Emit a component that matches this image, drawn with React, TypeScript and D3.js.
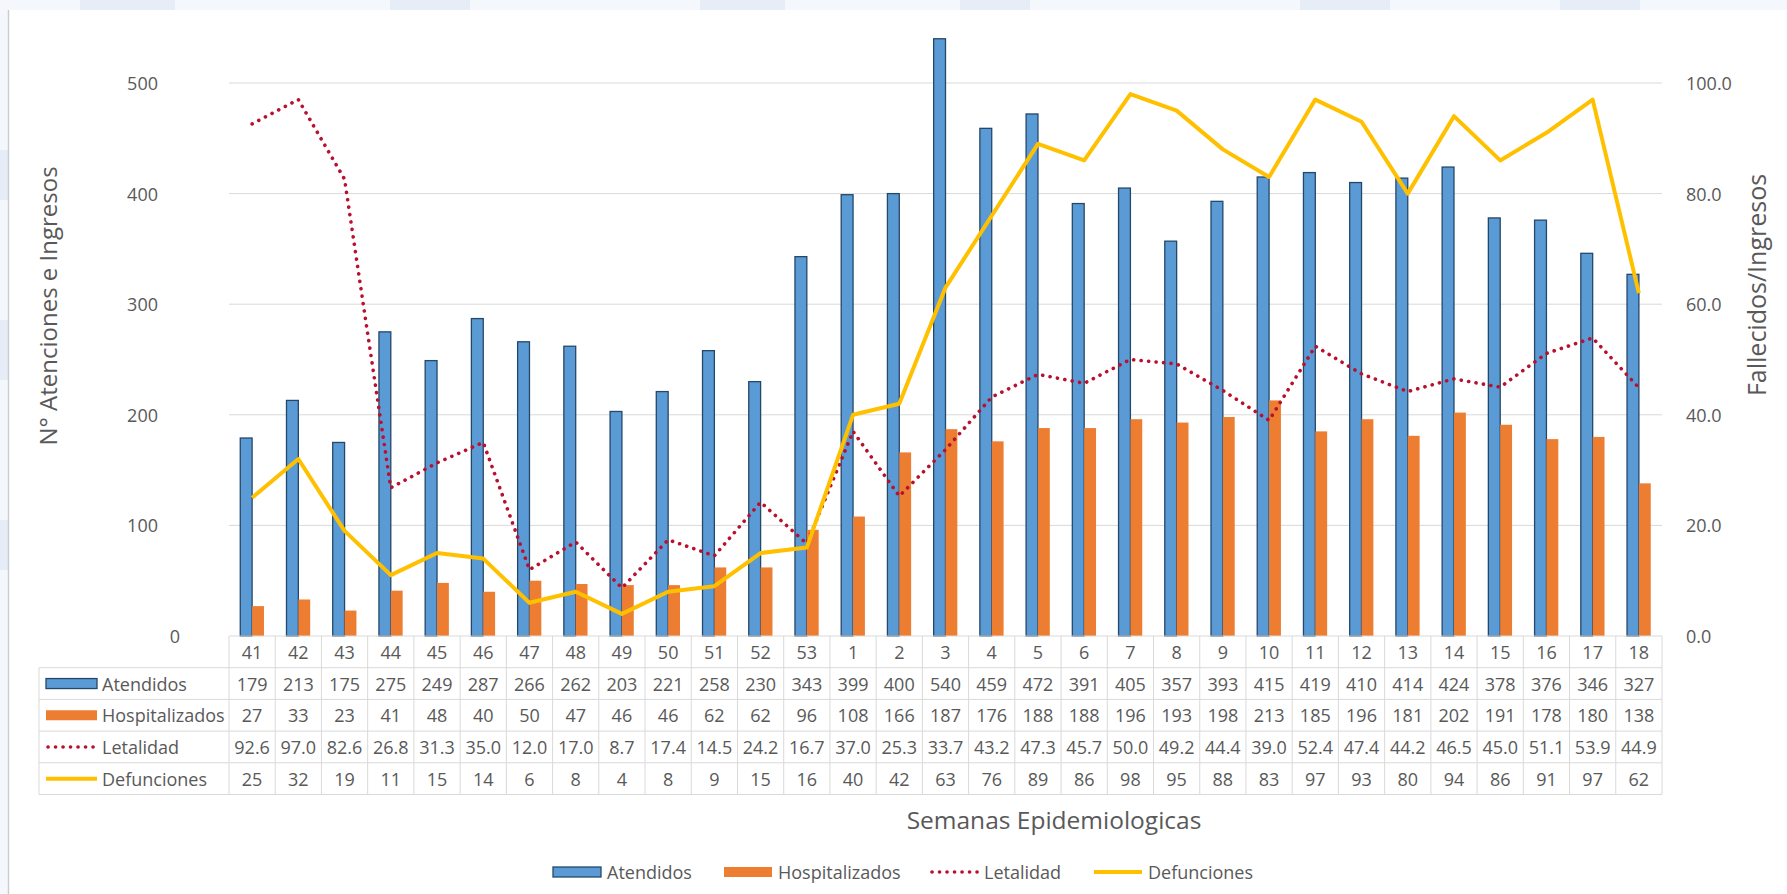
import React from "react";
import * as d3 from "d3";

const weeks = ["41","42","43","44","45","46","47","48","49","50","51","52","53","1","2","3","4","5","6","7","8","9","10","11","12","13","14","15","16","17","18"];
const atendidos = [179,213,175,275,249,287,266,262,203,221,258,230,343,399,400,540,459,472,391,405,357,393,415,419,410,414,424,378,376,346,327];
const hospitalizados = [27,33,23,41,48,40,50,47,46,46,62,62,96,108,166,187,176,188,188,196,193,198,213,185,196,181,202,191,178,180,138];
const letalidad = [92.6,97.0,82.6,26.8,31.3,35.0,12.0,17.0,8.7,17.4,14.5,24.2,16.7,37.0,25.3,33.7,43.2,47.3,45.7,50.0,49.2,44.4,39.0,52.4,47.4,44.2,46.5,45.0,51.1,53.9,44.9];
const defunciones = [25,32,19,11,15,14,6,8,4,8,9,15,16,40,42,63,76,89,86,98,95,88,83,97,93,80,94,86,91,97,62];
const leftTicks = [0,100,200,300,400,500];
const rightTicks = [0,20,40,60,80,100];
const seriesNames = ["Atendidos","Hospitalizados","Letalidad","Defunciones"];

const W = 1787, H = 894;
const BLUE = "#5B9BD5", BLUE_STROKE = "#25476A", ORANGE = "#ED7D31", RED = "#B8102E", YELLOW = "#FFC000";
const TXT = "#595959", GRID = "#D9D9D9";
const FONT = "'Open Sans', 'Noto Sans', sans-serif";

export default function App() {
  const x = d3.scaleBand<string>().domain(weeks).range([229, 1662]).paddingInner(0).paddingOuter(0);
  const bw = x.bandwidth();
  const xs = d3.scaleBand<string>().domain(["a", "h"]).range([0, bw]).paddingInner(0).paddingOuter(0.95);
  const yL = d3.scaleLinear().domain([0, 500]).range([636, 83]);
  const yR = d3.scaleLinear().domain([0, 100]).range([636, 83]);
  const cx = (w: string) => (x(w) as number) + bw / 2;

  const lineR = d3.line<number>().x((_, i) => cx(weeks[i])).y((d) => yR(d));

  const tableTop = 636;
  const rowH = 31.7;
  const tableLeft = 39;
  const plotLeft = 229, plotRight = 1662;
  const rows = [
    { name: seriesNames[0], vals: atendidos.map(String), key: "bar" },
    { name: seriesNames[1], vals: hospitalizados.map(String), key: "bar2" },
    { name: seriesNames[2], vals: letalidad.map((v) => v.toFixed(1)), key: "dot" },
    { name: seriesNames[3], vals: defunciones.map(String), key: "line" },
  ];

  const keyGlyph = (kind: string, x0: number, yc: number, w: number) => {
    if (kind === "bar") return <rect x={x0} y={yc - 5} width={w} height={10} fill={BLUE} stroke={BLUE_STROKE} strokeWidth={1.3} />;
    if (kind === "bar2") return <rect x={x0} y={yc - 5} width={w} height={10} fill={ORANGE} />;
    if (kind === "dot") return <line x1={x0 + 2} x2={x0 + w} y1={yc} y2={yc} stroke={RED} strokeWidth={3.6} strokeDasharray="0.1 7.4" strokeLinecap="round" />;
    return <line x1={x0} x2={x0 + w} y1={yc} y2={yc} stroke={YELLOW} strokeWidth={4} />;
  };

  const bgPatches = [
    [80, 0, 95, 10], [390, 0, 80, 10], [700, 0, 85, 10], [960, 0, 70, 10], [1300, 0, 90, 10], [1560, 0, 80, 10],
    [0, 150, 8, 50], [0, 320, 8, 60], [0, 520, 8, 50],
  ];

  return (
    <svg width={W} height={H} style={{ position: "absolute", left: 0, top: 0 }} fontFamily={FONT}>
      <rect x={0} y={0} width={W} height={H} fill="#F4F8FC" />
      {bgPatches.map((p, i) => (
        <rect key={i} x={p[0]} y={p[1]} width={p[2]} height={p[3]} fill="#E6EDF7" />
      ))}
      <rect x={9} y={10} width={W - 9} height={H - 10} fill="#FFFFFF" />
      <line x1={8.5} x2={8.5} y1={10} y2={H} stroke="#C9CDD2" strokeWidth={1.5} />

      {/* gridlines */}
      {leftTicks.filter((t) => t > 0).map((t) => (
        <line key={t} x1={plotLeft} x2={plotRight} y1={yL(t)} y2={yL(t)} stroke={GRID} strokeWidth={1} />
      ))}

      {/* left tick labels */}
      {leftTicks.map((t) => (
        <text key={t} x={t === 0 ? 180 : 158} y={yL(t)} textAnchor="end" dominantBaseline="central" fontSize={18} fill={TXT}>{t}</text>
      ))}
      {/* right tick labels */}
      {rightTicks.map((t) => (
        <text key={t} x={1686} y={yR(t)} textAnchor="start" dominantBaseline="central" fontSize={18} fill={TXT}>{t.toFixed(1)}</text>
      ))}

      {/* bars */}
      {weeks.map((w, i) => (
        <g key={w}>
          <rect x={(x(w) as number) + (xs("a") as number)} y={yL(atendidos[i])} width={xs.bandwidth()} height={yL(0) - yL(atendidos[i])} fill={BLUE} stroke={BLUE_STROKE} strokeWidth={1.3} />
          <rect x={(x(w) as number) + (xs("h") as number)} y={yL(hospitalizados[i])} width={xs.bandwidth()} height={yL(0) - yL(hospitalizados[i])} fill={ORANGE} />
        </g>
      ))}

      {/* lines */}
      <path d={lineR(letalidad) || ""} fill="none" stroke={RED} strokeWidth={3.6} strokeDasharray="0.1 7.4" strokeLinecap="round" strokeLinejoin="round" />
      <path d={lineR(defunciones) || ""} fill="none" stroke={YELLOW} strokeWidth={4} strokeLinejoin="round" />

      {/* data table */}
      <g stroke={GRID} strokeWidth={1} fill="none">
        <line x1={plotLeft} x2={plotRight} y1={tableTop} y2={tableTop} />
        {[1, 2, 3, 4, 5].map((r) => (
          <line key={r} x1={tableLeft} x2={plotRight} y1={tableTop + r * rowH} y2={tableTop + r * rowH} />
        ))}
        <line x1={tableLeft} x2={tableLeft} y1={tableTop + rowH} y2={tableTop + 5 * rowH} />
        {weeks.map((w) => (
          <line key={w} x1={x(w)} x2={x(w)} y1={tableTop} y2={tableTop + 5 * rowH} />
        ))}
        <line x1={plotRight} x2={plotRight} y1={tableTop} y2={tableTop + 5 * rowH} />
      </g>
      {weeks.map((w) => (
        <text key={w} x={cx(w)} y={tableTop + rowH / 2} textAnchor="middle" dominantBaseline="central" fontSize={18} fill={TXT}>{w}</text>
      ))}
      {rows.map((r, ri) => {
        const yc = tableTop + rowH * (ri + 1.5);
        return (
          <g key={r.name}>
            {keyGlyph(r.key, 46, yc, 51)}
            <text x={102} y={yc} dominantBaseline="central" fontSize={18} fill={TXT}>{r.name}</text>
            {weeks.map((w, i) => (
              <text key={w} x={cx(w)} y={yc} textAnchor="middle" dominantBaseline="central" fontSize={18} fill={TXT}>{r.vals[i]}</text>
            ))}
          </g>
        );
      })}

      {/* axis titles */}
      <text transform={`translate(47,306) rotate(-90)`} textAnchor="middle" dominantBaseline="central" fontSize={24} fill={TXT}>N° Atenciones e Ingresos</text>
      <text transform={`translate(1756,285) rotate(-90)`} textAnchor="middle" dominantBaseline="central" fontSize={25} fill={TXT}>Fallecidos/Ingresos</text>
      <text x={1054} y={819} textAnchor="middle" dominantBaseline="central" fontSize={24.5} fill={TXT}>Semanas Epidemiologicas</text>

      {/* legend */}
      {[
        { kind: "bar", name: seriesNames[0], kx: 553 },
        { kind: "bar2", name: seriesNames[1], kx: 724 },
        { kind: "dot", name: seriesNames[2], kx: 930 },
        { kind: "line", name: seriesNames[3], kx: 1094 },
      ].map((l) => (
        <g key={l.name}>
          {keyGlyph(l.kind, l.kx, 872, 48)}
          <text x={l.kx + 54} y={872} dominantBaseline="central" fontSize={18} fill={TXT}>{l.name}</text>
        </g>
      ))}
    </svg>
  );
}
